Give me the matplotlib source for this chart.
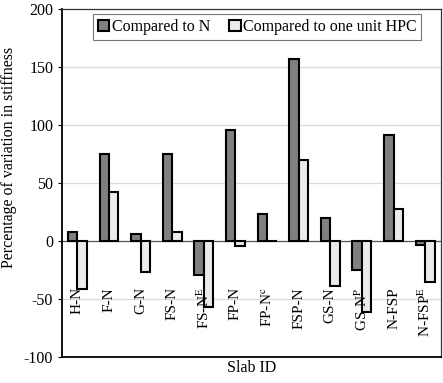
import matplotlib
matplotlib.use("Agg")
import matplotlib.pyplot as plt
import numpy as np

plt.rcParams['font.family'] = ['Liberation Serif', 'DejaVu Serif']
plt.rcParams['mathtext.fontset'] = 'stix'
plt.rcParams['axes.unicode_minus'] = False

slabs = ['H-N', 'F-N', 'G-N', 'FS-N', r'FS-N$^{\mathrm{E}}$', 'FP-N',
         r'FP-N$^{\mathrm{c}}$', 'FSP-N', 'GS-N', r'GS-N$^{\mathrm{P}}$',
         'N-FSP', r'N-FSP$^{\mathrm{E}}$']
vs_n = [8, 75, 6, 75, -29.5, 95.7, 23.5, 156.5, 19.7, -25, 91.4, -3.4]
vs_hpc = [-41, 42.3, -26.8, 8, -57, -4.3, 0, 70, -38.6, -61.5, 27.2, -35.7]

fig = plt.figure(figsize=(4.43, 3.83), dpi=100)
ax = fig.add_axes([0.139, 0.068, 0.8565, 0.9085])

x = np.arange(len(slabs))
w = 0.3
ax.bar(x - w / 2, vs_n, w, color='#808080', edgecolor='black', linewidth=1.5,
       label='Compared to N', zorder=3)
ax.bar(x + w / 2, vs_hpc, w, color='#ebebeb', edgecolor='black', linewidth=1.5,
       label='Compared to one unit HPC', zorder=3)

ax.set_xlim(-0.5, len(slabs) - 0.5)
ax.set_ylim(-100, 200)
ax.set_yticks(np.arange(-100, 201, 50))
ax.tick_params(axis='y', labelsize=11.5, length=3, width=0.8, direction='out',
               pad=3)
ax.set_xticks([])
for yv in [-50, 50, 100, 150]:
    ax.axhline(yv, color='#dcdcdc', linewidth=0.9, zorder=1)
ax.axhline(0, color='#555555', linewidth=0.9, zorder=2)

# category names hang below the zero line
for xi, name in zip(x, slabs):
    ax.text(xi, -40, name, rotation=90, ha='center', va='top', fontsize=11,
            zorder=4)

for side in ['left', 'bottom']:
    ax.spines[side].set_linewidth(1.3)
for side in ['top', 'right']:
    ax.spines[side].set_linewidth(0.9)
    ax.spines[side].set_color('#333333')

ax.set_ylabel('Percentage of variation in stiffness', fontsize=11.5)
ax.yaxis.set_label_coords(-0.118, 0.575)
ax.set_xlabel('Slab ID', fontsize=11.5, labelpad=2)

leg = ax.legend(loc='upper left', bbox_to_anchor=(0.084, 0.985), ncol=2,
                fontsize=11.5, frameon=True, fancybox=False, handlelength=0.7,
                handleheight=0.7, handletextpad=0.15, columnspacing=1.2,
                borderpad=0.3, borderaxespad=0)
leg.get_frame().set_edgecolor('#555555')
leg.get_frame().set_linewidth(0.8)

fig.savefig('out.png', dpi=100)
